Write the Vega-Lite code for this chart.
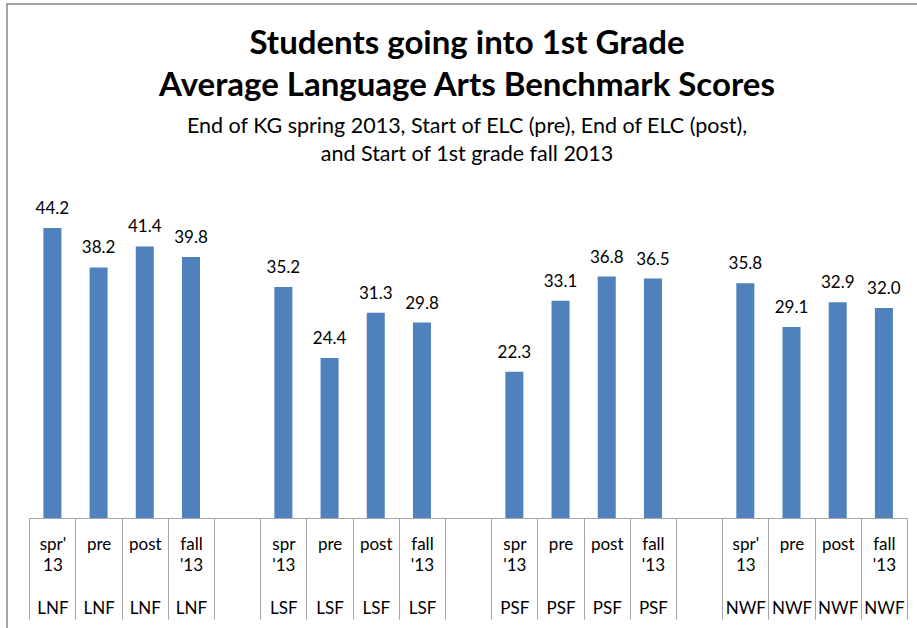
{
  "$schema": "https://vega.github.io/schema/vega-lite/v6.json",
  "width": 920,
  "height": 640,
  "autosize": {"type": "none"},
  "padding": {"left": 7, "top": 4, "right": 0, "bottom": 0},
  "background": "white",
  "config": {
    "view": {"stroke": "#868686", "strokeWidth": 1.5},
    "font": "Lato"
  },
  "title": {
    "text": ["Students going into 1st Grade", "Average Language Arts Benchmark Scores"],
    "subtitle": ["End of KG spring 2013, Start of ELC (pre), End of ELC (post),", "and Start of 1st grade fall 2013"],
    "font": "Lato",
    "fontSize": 33,
    "fontWeight": "bold",
    "lineHeight": 42,
    "color": "black",
    "subtitleFont": "Lato",
    "subtitleFontSize": 21.5,
    "subtitleLineHeight": 28,
    "subtitlePadding": 13,
    "subtitleColor": "black",
    "anchor": "middle",
    "frame": "group",
    "offset": -161
  },
  "data": {
    "values": [
      {"slot": "spr'|13|LNF", "group": "LNF", "value": 44.2},
      {"slot": "pre||LNF", "group": "LNF", "value": 38.2},
      {"slot": "post||LNF", "group": "LNF", "value": 41.4},
      {"slot": "fall|'13|LNF", "group": "LNF", "value": 39.8},
      {"slot": "spr|'13|LSF", "group": "LSF", "value": 35.2},
      {"slot": "pre||LSF", "group": "LSF", "value": 24.4},
      {"slot": "post||LSF", "group": "LSF", "value": 31.3},
      {"slot": "fall|'13|LSF", "group": "LSF", "value": 29.8},
      {"slot": "spr|'13|PSF", "group": "PSF", "value": 22.3},
      {"slot": "pre||PSF", "group": "PSF", "value": 33.1},
      {"slot": "post||PSF", "group": "PSF", "value": 36.8},
      {"slot": "fall|'13|PSF", "group": "PSF", "value": 36.5},
      {"slot": "spr'|13|NWF", "group": "NWF", "value": 35.8},
      {"slot": "pre||NWF", "group": "NWF", "value": 29.1},
      {"slot": "post||NWF", "group": "NWF", "value": 32.9},
      {"slot": "fall|'13|NWF", "group": "NWF", "value": 32.0}
    ]
  },
  "encoding": {
    "x": {
      "field": "slot",
      "type": "nominal",
      "sort": null,
      "scale": {
        "type": "band",
        "domain": ["spr'|13|LNF", "pre||LNF", "post||LNF", "fall|'13|LNF", "gap1",
                   "spr|'13|LSF", "pre||LSF", "post||LSF", "fall|'13|LSF", "gap2",
                   "spr|'13|PSF", "pre||PSF", "post||PSF", "fall|'13|PSF", "gap3",
                   "spr'|13|NWF", "pre||NWF", "post||NWF", "fall|'13|NWF"],
        "range": [22.3, 900],
        "paddingInner": 0,
        "paddingOuter": 0
      },
      "axis": {
        "title": null,
        "labelAngle": 0,
        "labelExpr": "(isString(datum.value) && indexof(datum.value, '|') >= 0) ? [split(datum.value, '|')[0], (split(datum.value, '|')[1] == '' ? '\u200b' : split(datum.value, '|')[1]), '\u200b', split(datum.value, '|')[2]] : ''",
        "labelFont": "Lato",
        "labelFontSize": 17,
        "labelColor": "black",
        "labelLineHeight": 21.5,
        "labelPadding": -83,
        "tickBand": "extent",
        "tickSize": 101,
        "tickColor": "#A6A6A6",
        "tickWidth": 1,
        "domainColor": "#A6A6A6",
        "domainWidth": 1,
        "offset": -126,
        "grid": false,
        "labelOverlap": false
      }
    },
    "y": {
      "field": "value",
      "type": "quantitative",
      "scale": {"domain": [-19.2, 78.35], "nice": false, "zero": false},
      "axis": null
    }
  },
  "layer": [
    {"mark": {"type": "bar", "color": "#4F81BD", "width": {"band": 0.39}}},
    {
      "mark": {"type": "text", "dy": -14, "baseline": "alphabetic", "font": "Lato", "fontSize": 17, "color": "black"},
      "encoding": {"text": {"field": "value", "type": "quantitative", "format": ".1f"}}
    }
  ]
}
